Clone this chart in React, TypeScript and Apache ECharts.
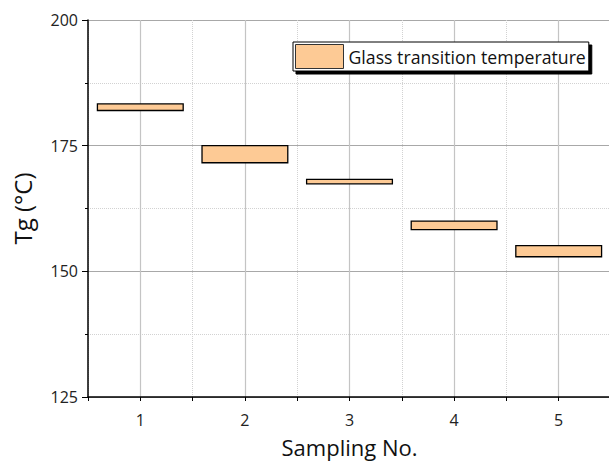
import React, { useEffect, useRef } from "react";
import * as echarts from "echarts";

const samples = [1, 2, 3, 4, 5];
const lowValues = [182.0, 171.6, 167.4, 158.3, 152.9];
const highValues = [183.3, 175.0, 168.3, 160.0, 155.1];
const yTicks = [125, 150, 175, 200];
const seriesName = "Glass transition temperature";

const FONT = "'Open Sans', 'Noto Sans', sans-serif";
const FILL = "#FDCA95";

export default function App() {
  const ref = useRef<HTMLDivElement>(null);
  useEffect(() => {
    if (!ref.current) return;
    const chart = echarts.init(ref.current, null, { renderer: "svg" });
    const data = samples.map((s, i) => [s, lowValues[i], highValues[i]]);
    chart.setOption({
      animation: false,
      backgroundColor: "#ffffff",
      grid: {
        left: 88,
        top: 20,
        width: 523,
        height: 377,
        containLabel: false,
        outerBoundsMode: "none",
      },
      legend: {
        left: 293,
        top: 42,
        padding: [2, 3, 2, 2],
        backgroundColor: "#ffffff",
        borderColor: "#000",
        borderWidth: 1,
        shadowColor: "#000",
        shadowOffsetX: 3,
        shadowOffsetY: 3,
        shadowBlur: 0,
        itemWidth: 48,
        itemHeight: 24,
        textStyle: { fontFamily: FONT, fontSize: 17.7, color: "#111" },
        data: [
          {
            name: seriesName,
            icon: "rect",
            itemStyle: { color: FILL, borderColor: "#333", borderWidth: 1 },
          },
        ],
      },
      xAxis: [
        {
          type: "value",
          min: 0.5,
          max: 5.5,
          interval: 0.5,
          name: "Sampling No.",
          nameLocation: "middle",
          nameGap: 39,
          nameTextStyle: { fontFamily: FONT, fontSize: 22, color: "#111" },
          axisLine: { show: true, onZero: false, lineStyle: { color: "#000", width: 1.5 } },
          axisTick: { show: true, length: 4, lineStyle: { color: "#000" } },
          axisLabel: {
            fontFamily: FONT,
            fontSize: 16,
            color: "#222",
            margin: 15,
            formatter: (v: number) => (Number.isInteger(v) ? String(v) : ""),
          },
          splitLine: {
            show: true,
            lineStyle: { color: ["rgba(0,0,0,0)", "#c4c4c4"], width: 1.2, type: "solid" },
          },
        },
        {
          type: "value",
          min: 0.5,
          max: 5.5,
          interval: 1,
          position: "bottom",
          axisLine: { show: false },
          axisTick: { show: false },
          axisLabel: { show: false },
          splitLine: { show: true, lineStyle: { color: "#d2d2d2", type: "dotted", width: 1 } },
        },
      ],
      yAxis: {
        type: "value",
        min: yTicks[0],
        max: yTicks[yTicks.length - 1],
        interval: 25,
        name: "Tg (°C)",
        nameLocation: "middle",
        nameGap: 54,
        nameTextStyle: { fontFamily: FONT, fontSize: 24, color: "#111" },
        axisLine: { show: true, onZero: false, lineStyle: { color: "#000", width: 1.5 } },
        axisTick: { show: true, length: 6, lineStyle: { color: "#000" } },
        minorTick: { show: true, splitNumber: 2, length: 3, lineStyle: { color: "#000" } },
        axisLabel: { fontFamily: FONT, fontSize: 16, color: "#222", margin: 10 },
        splitLine: { show: true, lineStyle: { color: "#a8a8a8", width: 1 } },
        minorSplitLine: { show: true, lineStyle: { color: "#d2d2d2", type: "dotted", width: 1 } },
      },
      series: [
        {
          name: seriesName,
          type: "custom",
          xAxisIndex: 0,
          encode: { x: 0, y: [1, 2] },
          data,
          itemStyle: { color: FILL, borderColor: "#000" },
          renderItem: (params: any, api: any) => {
            const x = api.value(0);
            const lo = api.value(1);
            const hi = api.value(2);
            const p1 = api.coord([x - 0.41, hi]);
            const p2 = api.coord([x + 0.41, lo]);
            return {
              type: "rect",
              shape: { x: p1[0], y: p1[1], width: p2[0] - p1[0], height: p2[1] - p1[1] },
              style: { fill: FILL, stroke: "#000", lineWidth: 1.3 },
            };
          },
        },
      ],
    });
    return () => chart.dispose();
  }, []);
  return (
    <div
      ref={ref}
      style={{ position: "fixed", left: 0, top: 0, width: 609, height: 464 }}
    />
  );
}
